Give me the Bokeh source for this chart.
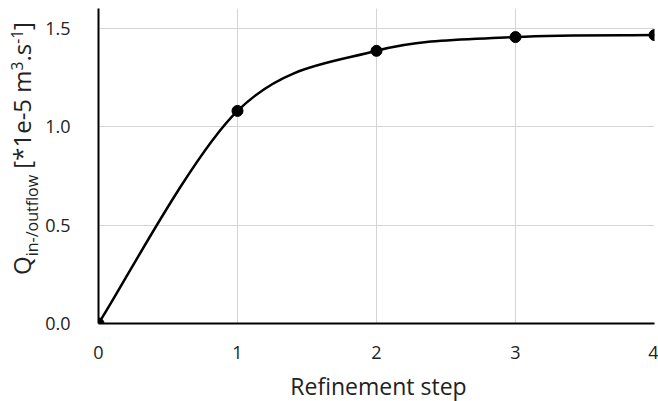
import numpy as np
from bokeh.plotting import figure
from bokeh.layouts import row
from bokeh.models import Range1d, FixedTicker, PrintfTickFormatter, Label, Div
from bokeh.embed import file_html
from bokeh.resources import INLINE

# ---- data ----
steps = [0, 1, 2, 3, 4]
flow = [0.0, 1.08, 1.385, 1.455, 1.465]
x_ticks = [0, 1, 2, 3, 4]
y_ticks = [0.0, 0.5, 1.0, 1.5]
x_title = "Refinement step"
y_title_main = "Q"
y_title_sub = "in-/outflow"
y_title_unit = ("[*1e-5 m", "3", ".s", "-1", "]")

FONT = "Open Sans"
TXT = "#222222"

# Excel-like smoothed line: cubic Bezier segments with control points
# derived from neighbouring data points
xs = np.array(steps, dtype=float)
ys = np.array(flow, dtype=float)
n = len(xs)
idx = np.arange(n - 1)
pi_ = np.clip(idx - 1, 0, n - 1)
ni_ = np.clip(idx + 2, 0, n - 1)
x0, y0 = xs[:-1], ys[:-1]
x1, y1 = xs[1:], ys[1:]
cx0 = x0 + (x1 - xs[pi_]) / 6.0
cy0 = y0 + (y1 - ys[pi_]) / 6.0
cx1 = x1 - (xs[ni_] - x0) / 6.0
cy1 = y1 - (ys[ni_] - y0) / 6.0

DIV_W = 41
H = 401
p = figure(width=658 - DIV_W, height=H, output_backend="svg", toolbar_location=None,
           x_range=Range1d(0, 4), y_range=Range1d(0, 1.6),
           min_border_left=98 - DIV_W, min_border_right=4, min_border_top=8,
           min_border_bottom=H - 323)
p.outline_line_color = None
p.background_fill_color = "white"
p.border_fill_color = "white"

p.bezier(x0=x0, y0=y0, x1=x1, y1=y1, cx0=cx0, cy0=cy0, cx1=cx1, cy1=cy1,
         line_color="black", line_width=2.5)
p.scatter(steps, flow, size=11, fill_color="black", line_color="black")

for ax in (p.xaxis[0], p.yaxis[0]):
    ax.axis_line_color = "black"
    ax.axis_line_width = 2
    ax.major_tick_line_color = None
    ax.minor_tick_line_color = None
    ax.major_label_text_font = FONT
    ax.major_label_text_font_size = "18px"
    ax.major_label_text_color = TXT

p.xaxis.ticker = FixedTicker(ticks=x_ticks)
p.yaxis.ticker = FixedTicker(ticks=y_ticks)
p.yaxis.formatter = PrintfTickFormatter(format="%.1f")
p.xaxis.major_label_standoff = 16
p.yaxis.major_label_standoff = 22

p.xgrid.grid_line_color = "#d4d4d4"
p.ygrid.grid_line_color = "#d4d4d4"
p.xgrid.grid_line_width = 1
p.ygrid.grid_line_width = 1

# x title in the panel below the axis (x relative to frame left, y from bottom)
p.add_layout(Label(x=280, y=8, x_units="screen", y_units="screen",
                   text=x_title, text_font=FONT, text_font_size="23px",
                   text_color=TXT, text_align="center", text_baseline="alphabetic"), "below")

# y title with sub/superscripts, rotated, in a narrow HTML block left of the plot
u = y_title_unit
sup = "font-size:15.5px;vertical-align:8px;"
html = (
    f'<div style="position:relative;width:{DIV_W}px;height:{H}px;">'
    f'<div style="position:absolute;left:5px;top:275px;transform-origin:0 0;'
    f'transform:rotate(-90deg);white-space:nowrap;font-family:\'{FONT}\';'
    f'font-size:24px;line-height:24px;color:{TXT};">'
    f'{y_title_main}<span style="font-size:16px;vertical-align:-7px;">{y_title_sub}</span>'
    f' {u[0]}<span style="{sup}">{u[1]}</span>{u[2]}<span style="{sup}">{u[3]}</span>{u[4]}'
    f'</div></div>'
)
div = Div(text=html, width=DIV_W, height=H, margin=(0, 0, 0, 0))

layout = row(div, p, spacing=0)
open("out.html", "w").write(file_html(layout, INLINE))
